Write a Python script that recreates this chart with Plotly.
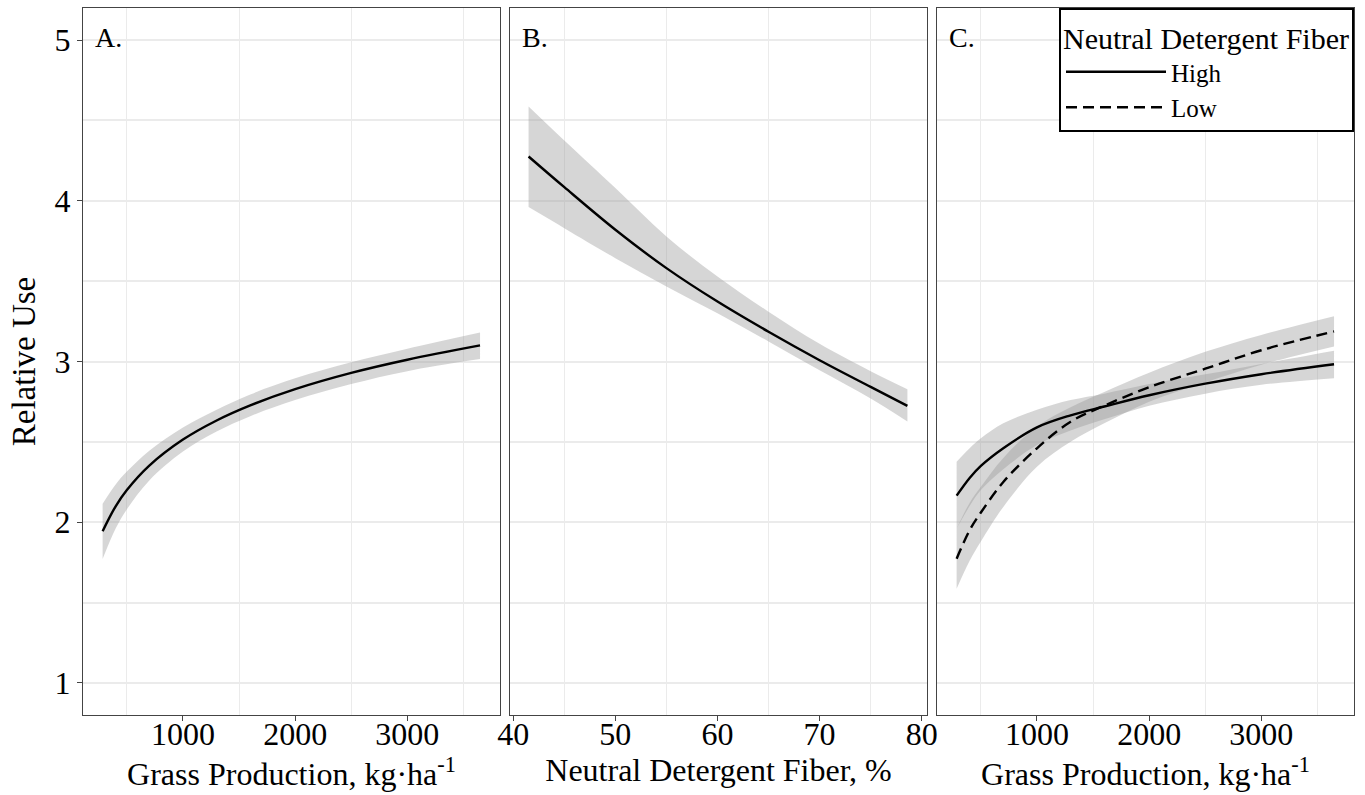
import plotly.graph_objects as go

FONT = "Liberation Serif"

# ---- Panel A: Grass production ----
a_x = [284, 400, 500, 700, 1000, 1300, 1600, 2000, 2500, 3000, 3648]
a_fit = [1.944, 2.099, 2.200, 2.352, 2.514, 2.633, 2.727, 2.828, 2.929, 3.011, 3.100]
a_up = [2.115, 2.235, 2.315, 2.445, 2.590, 2.700, 2.795, 2.895, 2.995, 3.080, 3.181]
a_lo = [1.771, 1.960, 2.080, 2.260, 2.440, 2.565, 2.660, 2.760, 2.860, 2.940, 3.015]

# ---- Panel B: Neutral detergent fiber ----
b_x = [41.5, 45, 50, 55, 60, 65, 70, 75, 78.6]
b_fit = [4.276, 4.085, 3.82, 3.581, 3.373, 3.185, 3.008, 2.842, 2.724]
b_up = [4.587, 4.375, 4.079, 3.778, 3.529, 3.31, 3.11, 2.94, 2.828]
b_lo = [3.961, 3.83, 3.643, 3.467, 3.30, 3.125, 2.945, 2.77, 2.627]

# ---- Panel C: Grass production by NDF level ----
c_x = [284, 400, 500, 700, 1000, 1300, 1600, 2000, 2500, 3000, 3648]
c_high = [2.165, 2.275, 2.350, 2.460, 2.590, 2.665, 2.720, 2.790, 2.862, 2.921, 2.983]
c_high_up = [2.376, 2.460, 2.522, 2.615, 2.700, 2.760, 2.800, 2.860, 2.920, 2.985, 3.067]
c_high_lo = [1.960, 2.100, 2.200, 2.330, 2.480, 2.570, 2.640, 2.725, 2.800, 2.855, 2.896]
c_low = [1.773, 1.950, 2.060, 2.250, 2.460, 2.625, 2.725, 2.840, 2.955, 3.070, 3.187]
c_low_up = [1.960, 2.120, 2.220, 2.400, 2.595, 2.715, 2.810, 2.930, 3.060, 3.165, 3.281]
c_low_lo = [1.586, 1.760, 1.880, 2.095, 2.345, 2.500, 2.615, 2.750, 2.870, 2.980, 3.094]

panel_labels = ["A.", "B.", "C."]
legend_names = ["High", "Low"]

BAND = "rgba(153,153,153,0.4)"
LINE_W = 2.4

fig = go.Figure()


def band(x, lo, up, xa, ya):
    fig.add_trace(go.Scatter(
        x=x, y=lo, mode="lines", line=dict(width=0, shape="spline", color="rgba(0,0,0,0)"),
        hoverinfo="skip", showlegend=False, xaxis=xa, yaxis=ya))
    fig.add_trace(go.Scatter(
        x=x, y=up, mode="lines", line=dict(width=0, shape="spline", color="rgba(0,0,0,0)"),
        fill="tonexty", fillcolor=BAND,
        hoverinfo="skip", showlegend=False, xaxis=xa, yaxis=ya))


band(a_x, a_lo, a_up, "x", "y")
band(b_x, b_lo, b_up, "x2", "y2")
band(c_x, c_high_lo, c_high_up, "x3", "y3")
band(c_x, c_low_lo, c_low_up, "x3", "y3")

fig.add_trace(go.Scatter(x=a_x, y=a_fit, mode="lines", showlegend=False,
                         line=dict(color="black", width=LINE_W, shape="spline"),
                         xaxis="x", yaxis="y"))
fig.add_trace(go.Scatter(x=b_x, y=b_fit, mode="lines", showlegend=False,
                         line=dict(color="black", width=LINE_W, shape="spline"),
                         xaxis="x2", yaxis="y2"))
fig.add_trace(go.Scatter(x=c_x, y=c_high, mode="lines", name=legend_names[0],
                         line=dict(color="black", width=LINE_W, shape="spline"),
                         xaxis="x3", yaxis="y3"))
fig.add_trace(go.Scatter(x=c_x, y=c_low, mode="lines", name=legend_names[1],
                         line=dict(color="black", width=LINE_W, shape="spline",
                                   dash="11px,6px"),
                         xaxis="x3", yaxis="y3"))

GRID = "#ebebeb"
BORDER = "#444444"
TICKFONT = dict(family=FONT, size=32, color="black")
XTITLEFONT = dict(family=FONT, size=32, color="black")
YTITLEFONT = dict(family=FONT, size=33, color="black")

W = 1271.0
doms = [[0, 417 / W], [427 / W, 844 / W], [854 / W, 1.0]]
xranges = [[109, 3826], [39.68, 80.52], [109, 3826]]
xticks = [[1000, 2000, 3000], [40, 50, 60, 70, 80], [1000, 2000, 3000]]
xminor = [[500, 1500, 2500, 3500], [45, 55, 65, 75], [500, 1500, 2500, 3500]]
xtitles = ["Grass Production, kg·ha<sup>-1</sup>", "Neutral Detergent Fiber, %",
           "Grass Production, kg·ha<sup>-1</sup>"]

layout = dict(
    width=1365, height=795,
    margin=dict(l=83, r=11, t=8, b=80, autoexpand=False),
    paper_bgcolor="white", plot_bgcolor="white",
    font=dict(family=FONT, color="black"),
    showlegend=True,
    legend=dict(
        x=1.0, xanchor="right", y=1.0, yanchor="top",
        bgcolor="white", bordercolor="black", borderwidth=2,
        title=dict(text="Neutral Detergent Fiber", font=dict(family=FONT, size=30)),
        font=dict(family=FONT, size=25),
        itemwidth=100, tracegroupgap=0, traceorder="normal",
    ),
)

for i in range(3):
    sfx = "" if i == 0 else str(i + 1)
    layout["xaxis" + sfx] = dict(
        domain=doms[i], range=xranges[i], anchor="y" + sfx, automargin=False,
        tickvals=xticks[i], ticktext=[str(v) for v in xticks[i]],
        showgrid=False, zeroline=False,
        minor=dict(tickvals=xminor[i], showgrid=True, gridcolor=GRID, gridwidth=1, ticks=""),
        ticks="outside", ticklen=5, tickwidth=1.2, tickcolor=BORDER,
        showline=True, linecolor=BORDER, linewidth=1.3, mirror=True,
        tickfont=TICKFONT, ticklabelstandoff=-15,
        title=dict(text=xtitles[i], font=XTITLEFONT, standoff=2),
    )
    layout["yaxis" + sfx] = dict(
        domain=[0, 1], range=[0.8, 5.2], anchor="x" + sfx, automargin=False,
        tickvals=[1, 2, 3, 4, 5], showticklabels=(i == 0),
        showgrid=True, gridcolor=GRID, gridwidth=2.2, zeroline=False,
        minor=dict(tickvals=[1.5, 2.5, 3.5, 4.5], showgrid=True, gridcolor=GRID,
                   gridwidth=2.2, ticks=""),
        ticks="outside" if i == 0 else "", ticklen=5, tickwidth=1.2, tickcolor=BORDER,
        showline=True, linecolor=BORDER, linewidth=1.3, mirror=True,
        tickfont=TICKFONT,
    )
layout["yaxis"]["title"] = dict(text="Relative Use", font=YTITLEFONT, standoff=8)

fig.update_layout(**layout)

for i, lab in enumerate(panel_labels):
    sfx = "" if i == 0 else str(i + 1)
    fig.add_annotation(text=lab, xref=("x" + sfx + " domain"), yref=("y" + sfx + " domain"),
                       x=0, y=1, xanchor="left", yanchor="top", xshift=10, yshift=-12,
                       showarrow=False, font=dict(family=FONT, size=28, color="black"))

fig.write_html("out.html")
